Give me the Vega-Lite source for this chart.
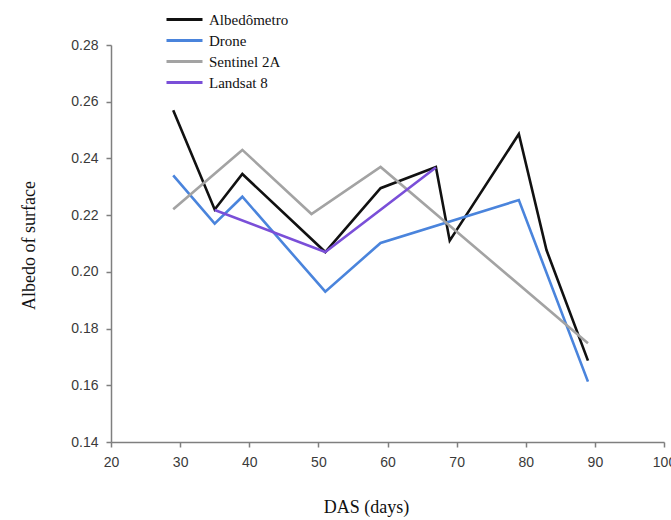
{
  "$schema": "https://vega.github.io/schema/vega-lite/v6.json",
  "width": 553,
  "height": 397,
  "autosize": {"type": "none"},
  "padding": {"left": 111, "top": 45, "right": 7, "bottom": 78},
  "background": "white",
  "config": {
    "view": {"stroke": null},
    "axis": {
      "grid": false,
      "labelFlush": false,
      "domainColor": "#7f7f7f",
      "domainWidth": 1.5,
      "tickColor": "#7f7f7f",
      "tickWidth": 1.5,
      "tickSize": 5,
      "labelFont": "Liberation Sans",
      "labelFontSize": 14,
      "labelColor": "#3a3a3a",
      "labelPadding": 8,
      "titleFont": "Liberation Serif",
      "titleFontSize": 18,
      "titleFontWeight": "normal",
      "titleColor": "#111111"
    }
  },
  "data": {
    "values": [
      {"series": "Albedômetro", "das": 29, "albedo": 0.257},
      {"series": "Albedômetro", "das": 35, "albedo": 0.222},
      {"series": "Albedômetro", "das": 39, "albedo": 0.2345},
      {"series": "Albedômetro", "das": 51, "albedo": 0.207},
      {"series": "Albedômetro", "das": 59, "albedo": 0.2295},
      {"series": "Albedômetro", "das": 67, "albedo": 0.237},
      {"series": "Albedômetro", "das": 69, "albedo": 0.211},
      {"series": "Albedômetro", "das": 79, "albedo": 0.2486},
      {"series": "Albedômetro", "das": 83, "albedo": 0.2077},
      {"series": "Albedômetro", "das": 89, "albedo": 0.1687},
      {"series": "Drone", "das": 29, "albedo": 0.234},
      {"series": "Drone", "das": 35, "albedo": 0.217},
      {"series": "Drone", "das": 39, "albedo": 0.2265},
      {"series": "Drone", "das": 51, "albedo": 0.193},
      {"series": "Drone", "das": 59, "albedo": 0.2102},
      {"series": "Drone", "das": 79, "albedo": 0.2253},
      {"series": "Drone", "das": 89, "albedo": 0.1613},
      {"series": "Sentinel 2A", "das": 29, "albedo": 0.2221},
      {"series": "Sentinel 2A", "das": 39, "albedo": 0.243},
      {"series": "Sentinel 2A", "das": 49, "albedo": 0.2204},
      {"series": "Sentinel 2A", "das": 59, "albedo": 0.237},
      {"series": "Sentinel 2A", "das": 89, "albedo": 0.1748},
      {"series": "Landsat 8", "das": 35, "albedo": 0.2218},
      {"series": "Landsat 8", "das": 51, "albedo": 0.207},
      {"series": "Landsat 8", "das": 67, "albedo": 0.2368}
    ]
  },
  "mark": {"type": "line", "strokeWidth": 2.6},
  "encoding": {
    "x": {
      "field": "das",
      "type": "quantitative",
      "scale": {"domain": [20, 100], "nice": false, "zero": false},
      "axis": {
        "values": [20, 30, 40, 50, 60, 70, 80, 90, 100],
        "title": "DAS (days)",
        "titleX": 255,
        "titleY": 65,
        "titleBaseline": "middle"
      }
    },
    "y": {
      "field": "albedo",
      "type": "quantitative",
      "scale": {"domain": [0.14, 0.28], "nice": false, "zero": false},
      "axis": {
        "values": [0.14, 0.16, 0.18, 0.2, 0.22, 0.24, 0.26, 0.28],
        "format": ".2f",
        "title": "Albedo of surface",
        "titleX": -82,
        "titleY": 200,
        "titleBaseline": "middle"
      }
    },
    "color": {
      "field": "series",
      "type": "nominal",
      "scale": {
        "domain": ["Albedômetro", "Drone", "Sentinel 2A", "Landsat 8"],
        "range": ["#111111", "#4a84dc", "#a3a3a3", "#7a4fd8"]
      },
      "legend": {
        "orient": "none",
        "legendX": 66,
        "legendY": -33,
        "title": null,
        "padding": 0,
        "symbolType": "M-4,0H4",
        "symbolSize": 81,
        "symbolStrokeWidth": 3,
        "labelFont": "Liberation Serif",
        "labelFontSize": 15,
        "labelColor": "#111111",
        "labelOffset": 17,
        "rowPadding": 5
      }
    }
  }
}
